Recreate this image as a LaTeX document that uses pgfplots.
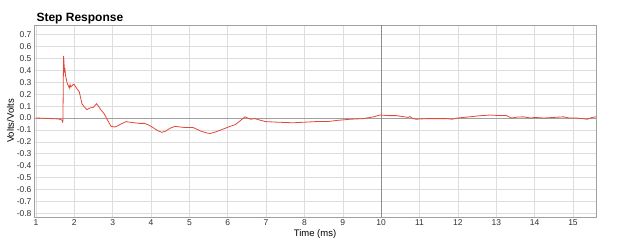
\documentclass[border=0pt]{standalone}
\usepackage{fontspec}
\setmainfont{Liberation Sans}
\usepackage{pgfplots}
\pgfplotsset{compat=1.18}
\definecolor{curve}{RGB}{226,72,56}
\definecolor{gridc}{RGB}{222,222,222}
\definecolor{axc}{RGB}{160,160,160}
\begin{document}
\begin{tikzpicture}[x=1pt,y=1pt]
\useasboundingbox (-34,-28) rectangle (586,217);
\begin{axis}[
  at={(0,0)}, anchor=south west,
  scale only axis, width=562pt, height=192pt,
  xmin=0.95, xmax=15.6, ymin=-0.83, ymax=0.78,
  xtick={1,...,15},
  ytick={-0.8,-0.7,-0.6,-0.5,-0.4,-0.3,-0.2,-0.1,0,0.1,0.2,0.3,0.4,0.5,0.6,0.7},
  yticklabel style={/pgf/number format/fixed,/pgf/number format/fixed zerofill,/pgf/number format/precision=1},
  /pgf/number format/assume math mode=true,
  tick label style={font=\fontsize{8.5}{10}\selectfont, text=black!80},
  major tick length=0pt,
  grid=major, major grid style={gridc, line width=0.6pt},
  axis line style={axc, line width=0.8pt},
  xticklabel style={yshift=1pt},
  yticklabel style={xshift=1pt},
  xlabel={Time (ms)}, xlabel style={font=\fontsize{9.5}{11}\selectfont, yshift=3pt},
  ylabel={Volts/Volts}, ylabel style={font=\fontsize{9.5}{11}\selectfont, yshift=-4pt},
  title={\textbf{Step Response}}, title style={font=\fontsize{12}{13}\selectfont, at={(0,1)}, anchor=south west, yshift=-8.5pt, xshift=-1pt},
  clip=true,
]
\addplot[axc, line width=0.7pt, forget plot] coordinates {(0.95,0) (15.6,0)};
\addplot[black!45, line width=0.8pt, forget plot] coordinates {(10,-0.83) (10,0.78)};
\addplot[curve, line width=0.8pt] coordinates {
(1.0,0.0) (1.2,-0.002) (1.4,-0.005) (1.6,-0.008) (1.66,-0.015) (1.69,-0.02)
(1.70,-0.04) (1.705,0.0) (1.72,0.52) (1.73,0.48) (1.745,0.38) (1.755,0.42)
(1.77,0.36) (1.79,0.33) (1.81,0.30) (1.83,0.28) (1.85,0.27) (1.87,0.25)
(1.89,0.28) (1.91,0.26) (1.94,0.27) (1.97,0.28) (2.0,0.28) (2.04,0.26)
(2.07,0.245) (2.13,0.22) (2.2,0.12) (2.27,0.09) (2.33,0.07) (2.38,0.08)
(2.42,0.085) (2.5,0.09) (2.58,0.12) (2.63,0.10) (2.69,0.07) (2.78,0.035)
(2.87,-0.02) (2.96,-0.07) (3.05,-0.075) (3.1,-0.07) (3.22,-0.05) (3.35,-0.03)
(3.45,-0.035) (3.57,-0.04) (3.7,-0.045) (3.83,-0.045) (3.95,-0.06) (4.05,-0.08)
(4.17,-0.105) (4.28,-0.12) (4.38,-0.11) (4.5,-0.085) (4.63,-0.07) (4.75,-0.075)
(4.9,-0.08) (5.1,-0.08) (5.3,-0.11) (5.45,-0.125) (5.54,-0.13) (5.7,-0.115)
(5.9,-0.09) (6.06,-0.07) (6.2,-0.055) (6.3,-0.03) (6.45,0.01) (6.55,-0.005)
(6.6,-0.01) (6.7,-0.005) (6.76,-0.01) (6.98,-0.03) (7.3,-0.035) (7.7,-0.04)
(8.0,-0.035) (8.3,-0.03) (8.6,-0.03) (8.85,-0.02) (9.2,-0.01) (9.54,-0.005)
(9.8,0.01) (9.97,0.025) (10.2,0.02) (10.4,0.02) (10.6,0.01) (10.7,0.005)
(10.75,0.012) (10.8,0.0) (10.9,-0.01) (11.2,-0.005) (11.5,-0.005) (11.7,-0.005)
(11.85,-0.01) (12.0,0.0) (12.3,0.01) (12.6,0.02) (12.85,0.025) (13.1,0.02)
(13.25,0.022) (13.4,0.0) (13.55,0.008) (13.7,0.01) (13.9,0.0) (14.0,0.005)
(14.24,0.0) (14.5,0.005) (14.75,0.01) (14.9,0.0) (15.1,0.0) (15.37,-0.01)
(15.5,0.005) (15.6,0.01)
};
\end{axis}
\end{tikzpicture}
\end{document}
